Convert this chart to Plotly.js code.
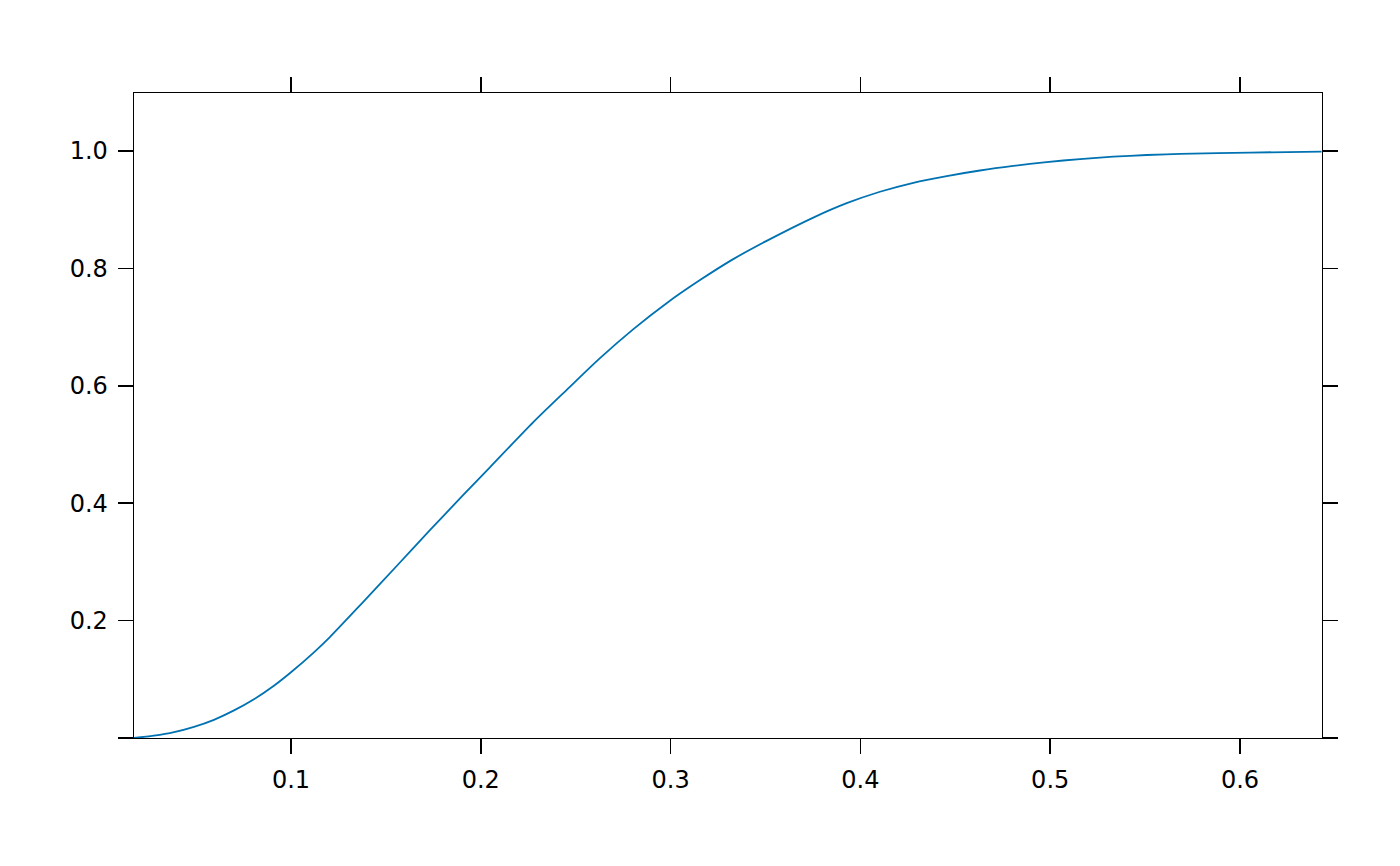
<!DOCTYPE html>
<html>
<head>
<meta charset="utf-8">
<script src="https://cdn.plot.ly/plotly-3.0.1.min.js"></script>
<style>html,body{margin:0;padding:0;background:#fff;}#plot{width:1400px;height:866px;}</style>
</head>
<body>
<div id="plot"></div>
<script>
// Curve values
var xValues = [0.0173, 0.0278, 0.0384, 0.0489, 0.0594, 0.07, 0.0805, 0.091, 0.1, 0.1121, 0.1205, 0.1381, 0.1557, 0.1732, 0.1908, 0.2048, 0.2277, 0.2453, 0.2628, 0.2804, 0.2979, 0.3155, 0.333, 0.3506, 0.3752, 0.3928, 0.4103, 0.4279, 0.4455, 0.463, 0.4806, 0.4981, 0.5157, 0.5332, 0.5508, 0.5684, 0.6053, 0.643];
var yValues = [0.0, 0.004, 0.010, 0.019, 0.031, 0.047, 0.066, 0.089, 0.112, 0.146, 0.172, 0.232, 0.293, 0.354, 0.414, 0.461, 0.538, 0.593, 0.647, 0.6965, 0.7407, 0.78, 0.8157, 0.8468, 0.8865, 0.911, 0.9305, 0.9458, 0.9572, 0.9667, 0.9745, 0.981, 0.9862, 0.9902, 0.9931, 0.995, 0.9973, 0.9988];
var xTickVals = [0.1, 0.2, 0.3, 0.4, 0.5, 0.6];
var xTickText = ["0.1", "0.2", "0.3", "0.4", "0.5", "0.6"];
var yTickVals = [0, 0.2, 0.4, 0.6, 0.8, 1.0];
var yTickText = ["", "0.2", "0.4", "0.6", "0.8", "1.0"];

var trace = {
  x: xValues, y: yValues, type: 'scatter', mode: 'lines',
  line: {color: '#0072B2', width: 1.8, shape: 'spline', smoothing: 0.8},
  hoverinfo: 'skip', showlegend: false
};

var layout = {
  width: 1400, height: 866,
  margin: {l: 134, r: 78, t: 93, b: 128},
  paper_bgcolor: '#fff', plot_bgcolor: '#fff',
  font: {family: 'DejaVu Sans', size: 24, color: '#000'},
  showlegend: false,
  xaxis: {
    range: [0.0173, 0.6432], tickvals: xTickVals, ticktext: xTickText,
    ticks: 'outside', ticklen: 15, tickwidth: 1.6, tickcolor: '#000',
    showline: true, linecolor: '#000', linewidth: 1.4, mirror: 'ticks',
    showgrid: false, zeroline: false, ticklabelstandoff: 5
  },
  yaxis: {
    range: [0, 1.0987], tickvals: yTickVals, ticktext: yTickText,
    ticks: 'outside', ticklen: 15, tickwidth: 1.6, tickcolor: '#000',
    showline: true, linecolor: '#000', linewidth: 1.4, mirror: 'ticks',
    showgrid: false, zeroline: false, ticklabelstandoff: 5
  }
};

Plotly.newPlot('plot', [trace], layout, {staticPlot: true, displayModeBar: false});
</script>
</body>
</html>
